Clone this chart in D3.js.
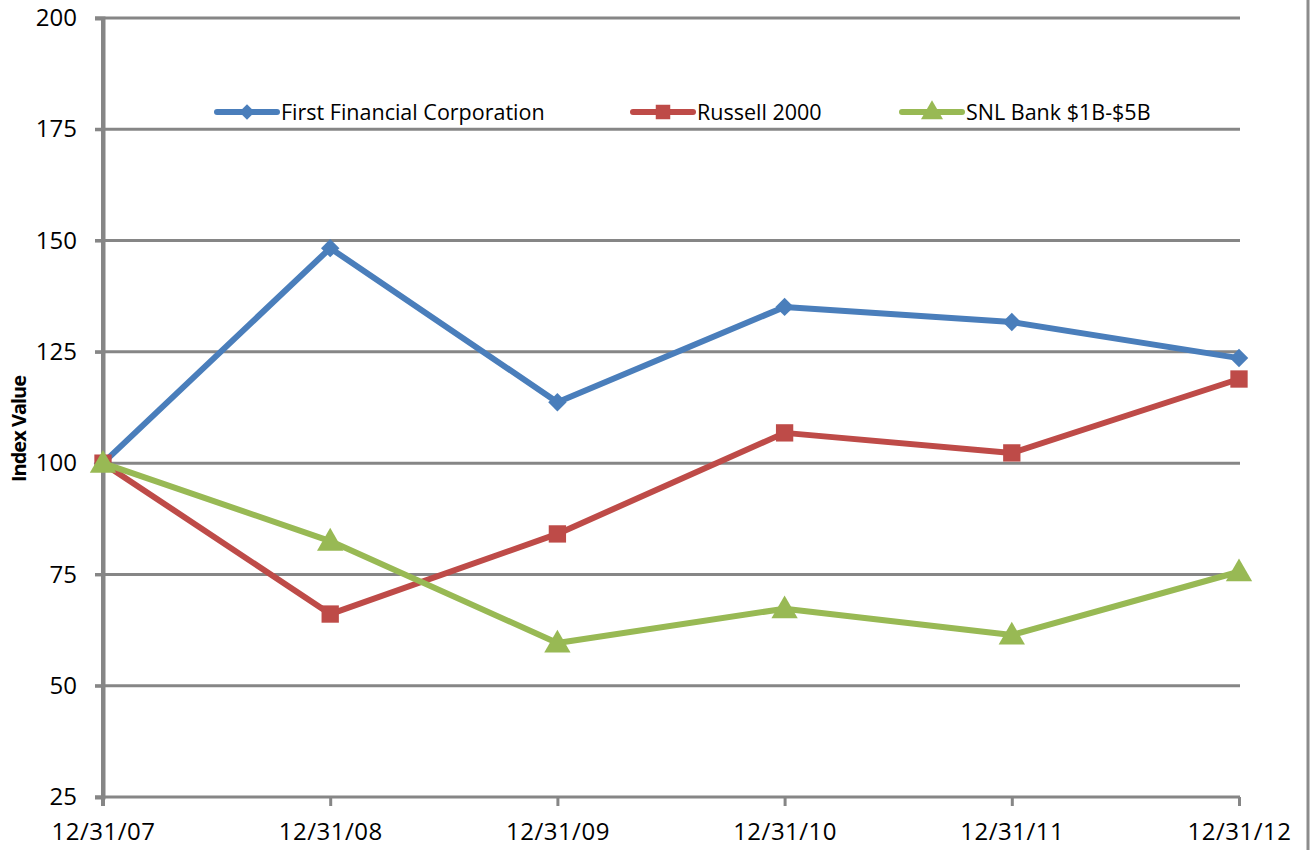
<!DOCTYPE html>
<html>
<head>
<meta charset="utf-8">
<script src="https://cdn.jsdelivr.net/npm/d3@7"></script>
<style>
  body { margin: 0; background: #fff; }
  text { font-family: "Open Sans", "Noto Sans", sans-serif; fill: #000; }
</style>
</head>
<body>
<svg id="chart" width="1311" height="850"></svg>
<script>
// data
var dates = ["12/31/07", "12/31/08", "12/31/09", "12/31/10", "12/31/11", "12/31/12"];
var firstFinancial = [100, 148.3, 113.7, 135.1, 131.7, 123.6];
var russell2000 = [100, 66.1, 84.1, 106.8, 102.3, 118.9];
var snlBank = [100, 82.5, 59.6, 67.3, 61.4, 75.6];
var yTicks = [25, 50, 75, 100, 125, 150, 175, 200];

var series = [
  {name: "First Financial Corporation", values: firstFinancial, color: "#4a7ebb", shape: "diamond"},
  {name: "Russell 2000", values: russell2000, color: "#be4b48", shape: "square"},
  {name: "SNL Bank $1B-$5B", values: snlBank, color: "#98b954", shape: "triangle"}
];

var svg = d3.select("#chart");
var plotLeft = 103, plotRight = 1239, plotTop = 18, plotBottom = 797;

// scales
var x = d3.scalePoint().domain(dates).range([plotLeft, plotRight]);
var y = d3.scaleLinear().domain([25, 200]).range([plotBottom, plotTop]);

// right border line
svg.append("line")
  .attr("x1", 1308).attr("x2", 1308)
  .attr("y1", 0).attr("y2", 850)
  .style("stroke", "#8c8c8c").style("stroke-width", 3);

// gridlines
svg.selectAll(".grid")
  .data(yTicks.filter(function(d) { return d > 25; }))
  .enter()
  .append("line")
  .attr("x1", plotLeft - 8).attr("x2", plotRight + 1)
  .attr("y1", function(d) { return y(d); })
  .attr("y2", function(d) { return y(d); })
  .style("stroke", "#868686").style("stroke-width", 3);

// y axis
var yAxis = d3.axisLeft(y).tickValues(yTicks).tickSize(8).tickPadding(18);
var gy = svg.append("g")
  .attr("transform", "translate(" + plotLeft + ",0)")
  .call(yAxis);
gy.select(".domain").style("stroke", "#868686").style("stroke-width", 4);
gy.selectAll(".tick line").style("stroke", "#868686").style("stroke-width", 3);
gy.selectAll("text").style("font-size", "24px").style("fill", "#000");

// x axis
var xAxis = d3.axisBottom(x).tickSize(9).tickPadding(17).tickSizeOuter(0);
var gx = svg.append("g")
  .attr("transform", "translate(0," + plotBottom + ")")
  .call(xAxis);
gx.select(".domain").attr("d", "M" + (plotLeft - 8) + ",0H" + (plotRight + 1))
  .style("stroke", "#868686").style("stroke-width", 3);
gx.selectAll(".tick line").style("stroke", "#868686").style("stroke-width", 3);
gx.selectAll("text").style("font-size", "24px").style("fill", "#000")
  .style("letter-spacing", "0.5px");

// redraw y domain on top of x axis
svg.append("line")
  .attr("x1", plotLeft).attr("x2", plotLeft)
  .attr("y1", plotTop - 1).attr("y2", plotBottom + 9)
  .style("stroke", "#868686").style("stroke-width", 4);

// y title
svg.append("text")
  .attr("transform", "translate(26,429) rotate(-90)")
  .attr("text-anchor", "middle")
  .style("font-size", "20px")
  .style("font-weight", "bold")
  .style("letter-spacing", "-1px")
  .text("Index Value");

// symbols (diamond = square turned 45 degrees)
var symbolType = {diamond: d3.symbolSquare, square: d3.symbolSquare, triangle: d3.symbolTriangle};
var symbolSize = {diamond: 170, square: 300, triangle: 300};
var symbolTurn = {diamond: 45, square: 0, triangle: 0};

var line = d3.line()
  .x(function(d, i) { return x(dates[i]); })
  .y(function(d) { return y(d); });

series.forEach(function(s) {
  svg.append("path")
    .datum(s.values)
    .attr("d", line)
    .style("fill", "none")
    .style("stroke", s.color)
    .style("stroke-width", 6)
    .style("stroke-linejoin", "round");

  svg.selectAll(".pt-" + s.shape)
    .data(s.values)
    .enter()
    .append("path")
    .attr("class", "pt-" + s.shape)
    .attr("transform", function(d, i) {
      var dy = s.shape == "triangle" ? 2 : 0;
      return "translate(" + x(dates[i]) + "," + (y(d) + dy) + ") rotate(" + symbolTurn[s.shape] + ")";
    })
    .attr("d", d3.symbol().type(symbolType[s.shape]).size(symbolSize[s.shape]))
    .style("fill", s.color);
});

// legend
var legendX = [217, 633, 902];
var legendY = 112;
var legend = svg.selectAll(".legend")
  .data(series)
  .enter()
  .append("g")
  .attr("class", "legend")
  .attr("transform", function(d, i) { return "translate(" + legendX[i] + "," + legendY + ")"; });

legend.append("line")
  .attr("x1", 0).attr("x2", 60)
  .attr("y1", 0).attr("y2", 0)
  .style("stroke", function(d) { return d.color; })
  .style("stroke-width", 6)
  .style("stroke-linecap", "round");

legend.append("path")
  .attr("transform", function(d) {
    return "translate(30," + (d.shape == "triangle" ? 1 : 0) + ") rotate(" + symbolTurn[d.shape] + ")";
  })
  .attr("d", function(d) { return d3.symbol().type(symbolType[d.shape]).size(symbolSize[d.shape] * 0.7)(); })
  .style("fill", function(d) { return d.color; });

legend.append("text")
  .attr("x", 64)
  .attr("y", 0)
  .attr("dy", "0.35em")
  .style("font-size", "21.5px")
  .text(function(d) { return d.name; });
</script>
</body>
</html>
